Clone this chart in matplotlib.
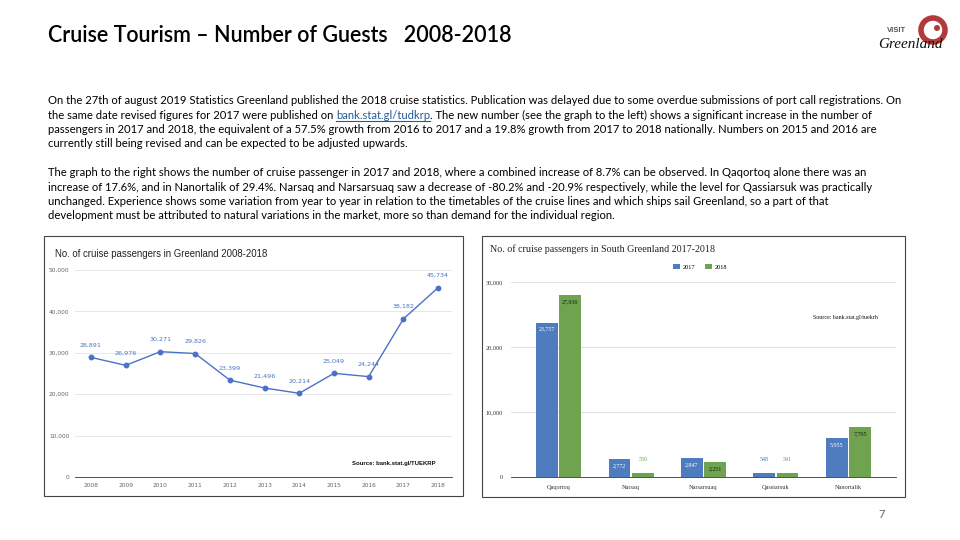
import matplotlib
matplotlib.use("Agg")
import matplotlib.pyplot as plt
from matplotlib.patches import Rectangle, Ellipse
from matplotlib import font_manager
import numpy as np

years = [2008, 2009, 2010, 2011, 2012, 2013, 2014, 2015, 2016, 2017, 2018]
guests = [28891, 26976, 30271, 29826, 23399, 21496, 20214, 25049, 24244, 38182, 45734]

regions = ["Qaqortoq", "Narsaq", "Narsarsuaq", "Qassiarsuk", "Nanortalik"]
pax_2017 = [23757, 2772, 2847, 548, 5955]
pax_2018 = [27936, 550, 2251, 541, 7705]

title = "Cruise Tourism \u2013 Number of Guests   2008-2018"
para1 = [
    "On the 27th of august 2019 Statistics Greenland published the 2018 cruise statistics. Publication was delayed due to some overdue submissions of port call registrations. On",
    ("the same date revised figures for 2017 were published on ", "bank.stat.gl/tudkrp", ". The new number (see the graph to the left) shows a significant increase in the number of"),
    "passengers in 2017 and 2018, the equivalent of a 57.5% growth from 2016 to 2017 and a 19.8% growth from 2017 to 2018 nationally. Numbers on 2015 and 2016 are",
    "currently still being revised and can be expected to be adjusted upwards.",
]
para2 = [
    "The graph to the right shows the number of cruise passenger in 2017 and 2018, where a combined increase of 8.7% can be observed. In Qaqortoq alone there was an",
    "increase of 17.6%, and in Nanortalik of 29.4%. Narsaq and Narsarsuaq saw a decrease of -80.2% and -20.9% respectively, while the level for Qassiarsuk was practically",
    "unchanged. Experience shows some variation from year to year in relation to the timetables of the cruise lines and which ships sail Greenland, so a part of that",
    "development must be attributed to natural variations in the market, more so than demand for the individual region.",
]

body_font = ["Lato", "DejaVu Sans"]

W, H = 960, 540
fig = plt.figure(figsize=(9.6, 5.4), dpi=100)
fig.patch.set_facecolor("white")

def fx(px):
    return px / W

def fy(py):
    return 1 - py / H

# Title
fig.text(fx(48), fy(35), title, fontsize=15.5, family=["Lato", "DejaVu Sans"],
         fontweight="semibold", color="#000000", va="center", ha="left")

# Body text
body_size = 8.15
line_h = 14.3
y0 = 101
for i, line in enumerate(para1):
    y = y0 + i * line_h
    if isinstance(line, tuple):
        t1 = fig.text(fx(48), fy(y), line[0], fontsize=body_size, family=body_font, va="center", ha="left")
        t2 = fig.text(0, 0, line[1], fontsize=body_size, family=body_font, color="#1f5c99", va="center")
        fig.canvas.draw()
        r = fig.canvas.get_renderer()
        bb1 = t1.get_window_extent(r)
        t2.set_position((bb1.x1 / W, fy(y)))
        fig.canvas.draw()
        bb2 = t2.get_window_extent(r)
        fig.text(bb2.x1 / W, fy(y), line[2], fontsize=body_size, family=body_font, va="center", ha="left")
        fig.add_artist(plt.Line2D([bb2.x0 / W, bb2.x1 / W], [bb2.y0 / H + 0.0005, bb2.y0 / H + 0.0005],
                                  color="#1f5c99", lw=0.8))
    else:
        fig.text(fx(48), fy(y), line, fontsize=body_size, family=body_font, va="center", ha="left")
y0b = 173
for i, line in enumerate(para2):
    fig.text(fx(48), fy(y0b + i * line_h), line, fontsize=body_size, family=body_font, va="center", ha="left")

# Frames of the two chart images
fig.add_artist(Rectangle((fx(44), fy(496)), fx(463) - fx(44), fy(236) - fy(496),
                         transform=fig.transFigure, fill=False, ec="#444444", lw=0.8))
fig.add_artist(Rectangle((fx(482), fy(497)), fx(905) - fx(482), fy(236) - fy(497),
                         transform=fig.transFigure, fill=False, ec="#444444", lw=0.8))

# ---------- Left: line chart ----------
line_col = "#4a72c8"
ax1 = fig.add_axes([fx(75), fy(477), fx(452) - fx(75), fy(270) - fy(477)])
ax1.plot(years, guests, color=line_col, lw=1.0, marker="o", ms=3.2)
ax1.set_xlim(2007.54, 2018.4)
ax1.set_ylim(0, 50000)
yt = [0, 10000, 20000, 30000, 40000, 50000]
ax1.set_yticks(yt)
ax1.set_yticklabels([f"{v:,}" if v else "0" for v in yt])
ax1.set_xticks(years)
ax1.set_xticklabels([str(y) for y in years])
ax1.tick_params(axis="both", labelsize=4.2, colors="#666666", length=0, pad=4)
ax1.grid(axis="y", color="#e3e3e3", lw=0.6)
ax1.set_axisbelow(True)
for s in ["top", "right", "left"]:
    ax1.spines[s].set_visible(False)
ax1.spines["bottom"].set_color("#333333")
ax1.spines["bottom"].set_linewidth(0.6)
for xx, v in zip(years, guests):
    ax1.annotate(f"{v:,}", (xx, v), xytext=(0, 7), textcoords="offset points",
                 ha="center", va="bottom", fontsize=4.6, color=line_col)
fig.text(fx(55), fy(254), "No. of cruise passengers in Greenland 2008-2018", fontsize=6.9,
         family=["Liberation Sans", "DejaVu Sans"], color="#222222", va="center")
fig.text(fx(436), fy(464), "Source: bank.stat.gl/TUEKRP", fontsize=4.3, fontweight="bold",
         family=["Liberation Sans", "DejaVu Sans"], color="#111111", ha="right", va="center")

# ---------- Right: grouped bar chart ----------
c17 = "#4f7bbf"
c18 = "#6fa34f"
serif = ["Liberation Serif", "DejaVu Serif"]
ax2 = fig.add_axes([fx(511), fy(477), fx(896) - fx(511), fy(282) - fy(477)])
x = np.arange(len(regions))
bw = 0.30
b1 = ax2.bar(x - bw / 2 - 0.01, pax_2017, bw, color=c17, label="2017")
b2 = ax2.bar(x + bw / 2 + 0.01, pax_2018, bw, color=c18, label="2018")
ax2.set_xlim(-0.66, 4.66)
ax2.set_ylim(0, 30000)
ax2.set_yticks([0, 10000, 20000, 30000])
ax2.set_yticklabels(["0", "10,000", "20,000", "30,000"])
ax2.set_xticks(x)
ax2.set_xticklabels(regions)
for lab in ax2.get_xticklabels() + ax2.get_yticklabels():
    lab.set_family(serif)
ax2.tick_params(axis="both", labelsize=4.5, colors="#333333", length=0, pad=6)
ax2.grid(axis="y", color="#d9d9d9", lw=0.6)
ax2.set_axisbelow(True)
for s in ["top", "right", "left"]:
    ax2.spines[s].set_visible(False)
ax2.spines["bottom"].set_color("#333333")
ax2.spines["bottom"].set_linewidth(0.6)
for rect, v in zip(b1, pax_2017):
    cx = rect.get_x() + rect.get_width() / 2
    if v > 1500:
        ax2.annotate(f"{v:,}", (cx, v), xytext=(0, -3), textcoords="offset points",
                     ha="center", va="top", fontsize=4.3, color="white", family=serif)
    else:
        ax2.annotate(f"{v:,}", (cx, v), xytext=(0, 8), textcoords="offset points",
                     ha="center", va="bottom", fontsize=4.3, color=c17, family=serif)
for rect, v in zip(b2, pax_2018):
    cx = rect.get_x() + rect.get_width() / 2
    if v > 1500:
        ax2.annotate(f"{v:,}", (cx, v), xytext=(0, -3), textcoords="offset points",
                     ha="center", va="top", fontsize=4.3, color="#1a1a1a", family=serif)
    else:
        ax2.annotate(f"{v:,}", (cx, v), xytext=(0, 8), textcoords="offset points",
                     ha="center", va="bottom", fontsize=4.3, color=c18, family=serif)
ax2.legend(loc="center", bbox_to_anchor=(fx(700), fy(267)), bbox_transform=fig.transFigure,
           ncol=2, frameon=False, handlelength=1.1, handleheight=0.9,
           columnspacing=1.5, handletextpad=0.5, prop={"family": serif, "size": 4.5})
fig.text(fx(490), fy(249), "No. of cruise passengers in South Greenland 2017-2018", fontsize=7.2,
         family=serif, color="#222222", va="center")
fig.text(fx(878), fy(318), "Source: bank.stat.gl/tuekrh", fontsize=4.3, family=serif,
         color="#111111", ha="right", va="center")

# Logo (approximation)
fig.add_artist(Ellipse((fx(933), fy(30)), 24 / W, 24 / H, transform=fig.transFigure,
                       fc="none", ec="#b33a3a", lw=4))
fig.add_artist(Ellipse((fx(937), fy(28)), 6 / W, 6 / H, transform=fig.transFigure,
                       fc="#b33a3a", ec="none"))
fig.text(fx(897), fy(31), "VISIT", fontsize=5.5, fontweight="bold", color="#555555",
         family=["Liberation Sans", "DejaVu Sans"], va="center", ha="center")
fig.text(fx(910), fy(44), "Greenland", fontsize=11, style="italic", color="#111111",
         family=["Liberation Serif", "DejaVu Serif"], va="center", ha="center")

# Slide number
fig.text(fx(882), fy(514), "7", fontsize=8, color="#666666", va="center", ha="center",
         family=["Lato", "DejaVu Sans"])

fig.savefig("out.png", dpi=100, facecolor="white")
